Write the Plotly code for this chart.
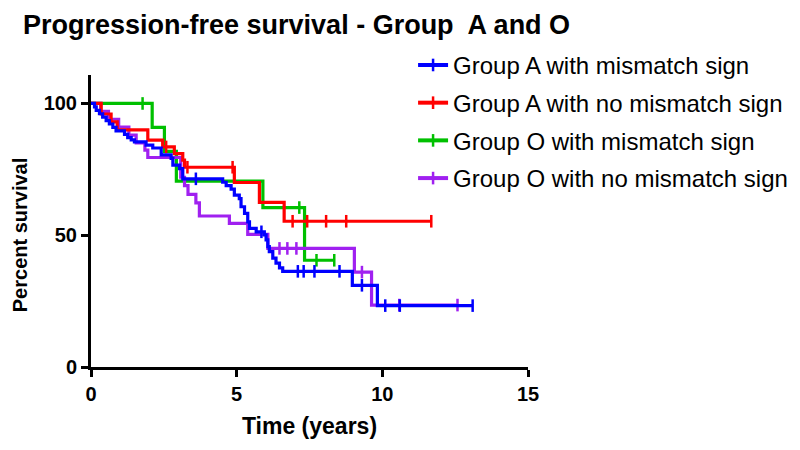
import numpy as np
import plotly.graph_objects as go

# ---- data ----
series_names = ["Group A with mismatch sign", "Group A with no mismatch sign",
                "Group O with mismatch sign", "Group O with no mismatch sign"]
series_colors = ["#0000FF", "#FF0000", "#00C000", "#A020F0"]

# Group A with mismatch sign
a_mm_t = [0.12, 0.18, 0.29, 0.40, 0.52, 0.63, 0.75, 0.86, 1.15, 1.26, 1.38, 1.49, 1.89,
          2.12, 2.41, 2.75, 2.81, 3.04, 3.15, 4.52, 4.64, 4.81, 4.92, 5.09, 5.15, 5.27,
          5.38, 5.44, 5.67, 5.95, 6.01, 6.07, 6.12, 6.24, 6.35, 6.47, 6.58, 8.97, 9.83]
a_mm_s = [98.7, 97.4, 96.1, 94.8, 93.5, 92.2, 90.9, 89.6, 88.3, 87.0, 86.2, 85.4, 84.2,
          83.1, 80.5, 79.2, 76.6, 75.3, 71.4, 70.1, 68.8, 67.5, 65.2, 63.9, 60.8, 58.3,
          55.1, 52.6, 51.3, 50.1, 48.2, 45.7, 43.8, 41.3, 39.4, 37.6, 36.3, 31.0, 23.3]
a_mm_cens = [3.6, 5.85, 7.1, 7.3, 7.67, 8.53, 9.3, 10.1, 10.6, 13.1]

# Group A with no mismatch sign
a_nm_t = [0.35, 0.69, 0.90, 1.95, 2.46, 2.86, 3.15, 3.21, 4.92, 5.78, 6.63]
a_nm_s = [96.0, 93.0, 90.0, 86.1, 83.5, 81.0, 78.5, 75.8, 70.0, 62.5, 55.3]
a_nm_cens = [2.58, 3.31, 4.86, 6.92, 7.42, 8.07, 8.76, 11.68]

# Group O with mismatch sign
o_mm_t = [2.10, 2.52, 2.93, 5.90, 7.33]
o_mm_s = [90.9, 81.8, 70.5, 60.5, 40.5]
o_mm_cens = [1.77, 7.15, 7.74, 8.35]

# Group O with no mismatch sign
o_nm_t = [0.33, 0.60, 0.95, 1.30, 1.55, 1.85, 1.95, 3.08, 3.21, 3.33, 3.60, 3.72,
          4.75, 5.38, 6.07, 9.04, 9.63]
o_nm_s = [97.0, 94.0, 91.0, 88.0, 85.0, 82.3, 79.5, 72.0, 68.8, 65.5, 62.3, 57.3,
          54.5, 50.3, 45.0, 36.0, 23.5]
o_nm_cens = [6.47, 6.74, 7.05, 9.3, 10.58, 12.58]

x_ticks = [0, 5, 10, 15]
y_ticks = [0, 50, 100]

groups = [(a_mm_t, a_mm_s, a_mm_cens), (a_nm_t, a_nm_s, a_nm_cens),
          (o_mm_t, o_mm_s, o_mm_cens), (o_nm_t, o_nm_s, o_nm_cens)]


def km_curve(times, surv, cens):
    end = max(max(cens), max(times))
    x = [0.0] + list(times) + [end]
    y = [100.0] + list(surv) + [surv[-1]]
    t_arr = np.array(times)
    s_arr = np.array(surv)
    cy = []
    for c in cens:
        idx = np.searchsorted(t_arr, c, side="right") - 1
        cy.append(100.0 if idx < 0 else float(s_arr[idx]))
    return x, y, cy


FONT = "Liberation Sans, Arial, sans-serif"
W, H = 792, 442   # page body has an 8px margin
fig = go.Figure()

# legend entries (line with censor tick)
for name, col in zip(series_names, series_colors):
    fig.add_trace(go.Scatter(
        x=[None], y=[None], mode="lines+markers", name=name, legendgroup=name,
        line=dict(color=col, width=4),
        marker=dict(symbol="line-ns-open", size=9, color=col, line=dict(color=col, width=2.5)),
        showlegend=True, hoverinfo="skip"))

# draw order: green, purple, red, blue
for i in [2, 3, 1, 0]:
    times, surv, cens = groups[i]
    x, y, cy = km_curve(times, surv, cens)
    col = series_colors[i]
    fig.add_trace(go.Scatter(x=x, y=y, mode="lines", line=dict(color=col, width=3.2, shape="hv"),
                             showlegend=False, legendgroup=series_names[i]))
    fig.add_trace(go.Scatter(x=cens, y=cy, mode="markers",
                             marker=dict(symbol="line-ns-open", size=9, color=col,
                                         line=dict(color=col, width=2.5)),
                             showlegend=False, legendgroup=series_names[i]))

fig.update_layout(
    width=W, height=H,
    margin=dict(l=83, r=272, t=67, b=83, autoexpand=False),
    paper_bgcolor="white", plot_bgcolor="white",
    font=dict(family=FONT, color="black"),
    title=dict(text="<b>Progression-free survival - Group  A and O</b>",
               font=dict(family=FONT, size=27, color="black"),
               x=15 / W, xref="container", xanchor="left",
               y=1 - 17 / H, yref="container", yanchor="middle"),
    legend=dict(x=0.737, y=1.11, xanchor="left", yanchor="top",
                font=dict(family=FONT, size=24, color="black"),
                traceorder="grouped", tracegroupgap=3.5,
                bgcolor="rgba(0,0,0,0)", borderwidth=0),
    showlegend=True,
    annotations=[dict(text="<b>Percent survival</b>", textangle=-90,
                      xref="paper", x=0, xanchor="center", xshift=-71,
                      yref="y", y=50, yanchor="middle", showarrow=False,
                      font=dict(family=FONT, size=20, color="black"))],
)

fig.update_xaxes(
    range=[0, 15], tickvals=x_ticks, ticktext=[str(v) for v in x_ticks],
    showline=True, linewidth=3, linecolor="black", showgrid=False, zeroline=False,
    ticks="outside", ticklen=7, tickwidth=3, tickcolor="black", automargin=False,
    tickfont=dict(family=FONT, size=20, color="black", weight="bold"),
    title=dict(text="<b>Time (years)</b>", font=dict(family=FONT, size=23, color="black"), standoff=14),
)
fig.update_yaxes(
    range=[0, 110.8], tickvals=y_ticks, ticktext=[str(v) for v in y_ticks],
    showline=True, linewidth=3, linecolor="black", showgrid=False, zeroline=False,
    ticks="outside", ticklen=7, tickwidth=3, tickcolor="black", automargin=False,
    tickfont=dict(family=FONT, size=20, color="black", weight="bold"),
)

fig.write_html("out.html")
